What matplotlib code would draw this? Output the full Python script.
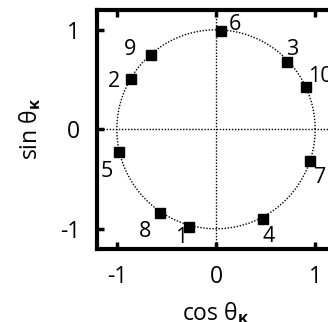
import matplotlib
matplotlib.use('Agg')
import matplotlib.pyplot as plt
import numpy as np

plt.rcParams['font.family'] = ['Open Sans', 'DejaVu Sans']
plt.rcParams['mathtext.fontset'] = 'custom'
plt.rcParams['mathtext.rm'] = 'Open Sans'
plt.rcParams['mathtext.bf'] = 'Open Sans:bold'

# points on the unit circle
labels = ['1', '2', '3', '4', '5', '6', '7', '8', '9', '10']
cosTheta = [-0.27, -0.86, 0.72, 0.47, -0.98, 0.05, 0.95, -0.56, -0.66, 0.91]
sinTheta = [-0.98, 0.51, 0.68, -0.90, -0.23, 0.99, -0.32, -0.84, 0.75, 0.43]
ticks = [-1, 0, 1]

# label offsets in pixels (dx, dy)
offsets = {'1': (-8, -11), '2': (-17, -3), '3': (5, 12), '4': (6, -18),
           '5': (-12, -19), '6': (14, 6), '7': (10, -16), '8': (-15, -19),
           '9': (-20, 5), '10': (14, 10)}

fig = plt.figure(figsize=(3.28, 3.22), dpi=100)
ax = fig.add_axes([97/328, (322-248.7)/322, 238/328, 238.8/322])

t = np.linspace(0, 2*np.pi, 400)
ax.plot(np.cos(t), np.sin(t), color='black', linestyle=(0, (1, 1.2)), linewidth=1.0)
ax.axhline(0, color='black', linestyle=(0, (1, 1.2)), linewidth=1.0)
ax.axvline(0, color='black', linestyle=(0, (1, 1.2)), linewidth=1.0)

ax.plot(cosTheta, sinTheta, 's', color='black', markersize=6.5, linestyle='none')
for lab, x, y in zip(labels, cosTheta, sinTheta):
    dx, dy = offsets[lab]
    ax.annotate(lab, (x, y), xytext=(dx, dy), textcoords='offset pixels',
                ha='center', va='center', fontsize=15.5, annotation_clip=False)

ax.set_xlim(-1.2, 1.2)
ax.set_ylim(-1.2, 1.2)
ax.set_xticks(ticks)
ax.set_yticks(ticks)
ax.set_xticklabels(['-1', '0', '1'], fontsize=16.5)
ax.set_yticklabels(['-1', '0', '1'], fontsize=16.5)
ax.tick_params(direction='in', length=5, width=2.5, top=True, right=True, pad=12)
for s in ax.spines.values():
    s.set_linewidth(3)

ax.set_xlabel(r'cos $\mathrm{\theta}_{\mathbf{\kappa}}$', fontsize=16.5, labelpad=8)
ax.set_ylabel(r'sin $\mathrm{\theta}_{\mathbf{\kappa}}$', fontsize=16.5, labelpad=12)

fig.savefig('out.png', dpi=100)
